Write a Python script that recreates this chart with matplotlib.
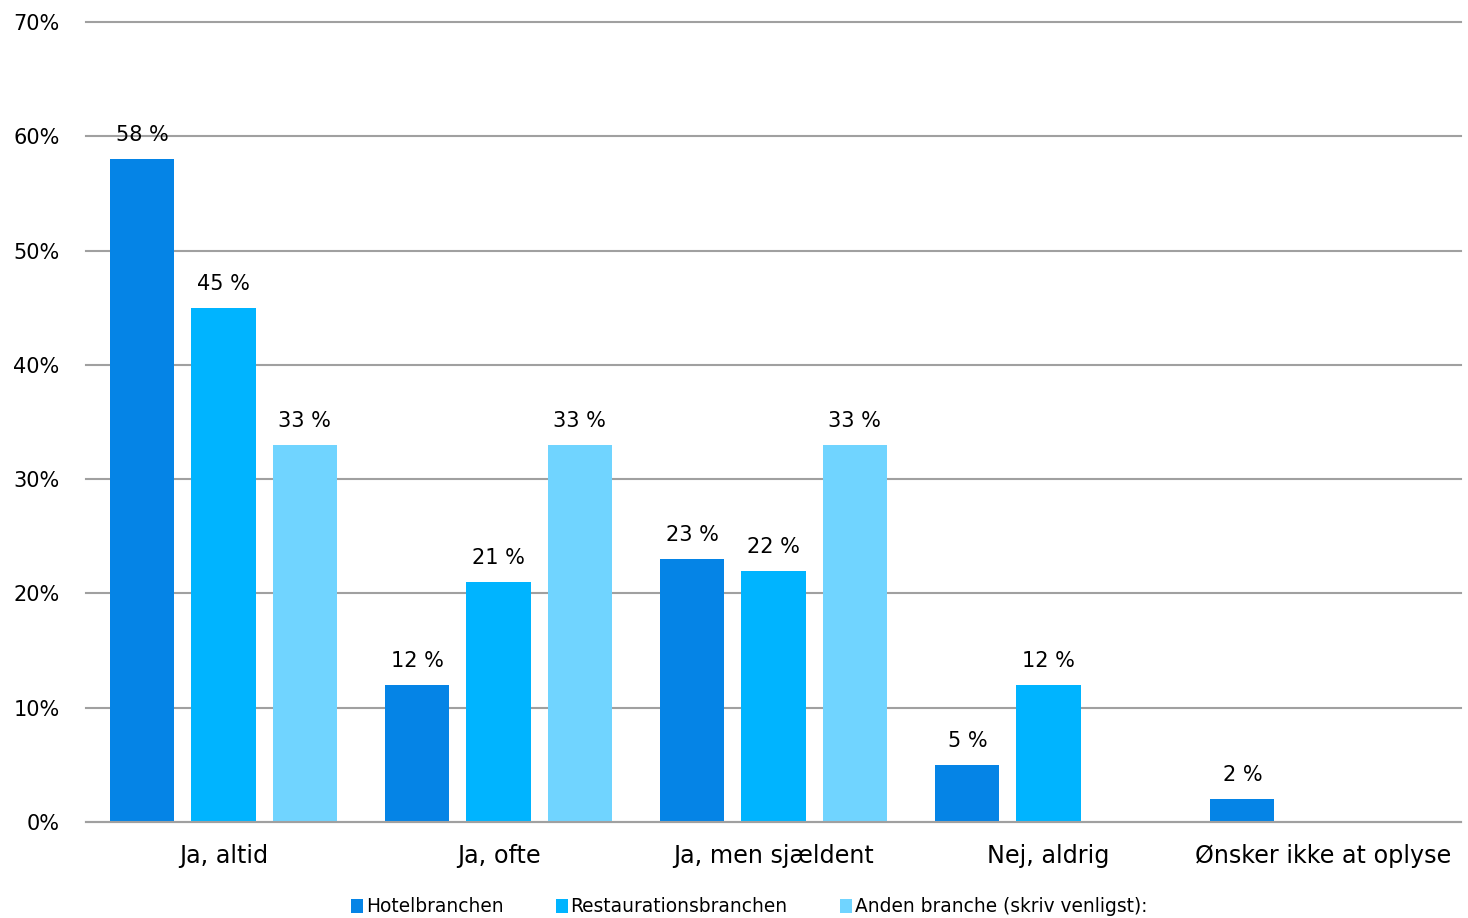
import matplotlib
matplotlib.use("Agg")
import matplotlib.pyplot as plt
import numpy as np
from matplotlib.patches import Patch

categories = ["Ja, altid", "Ja, ofte", "Ja, men sjældent", "Nej, aldrig", "Ønsker ikke at oplyse"]
series_names = ["Hotelbranchen", "Restaurationsbranchen", "Anden branche (skriv venligst):"]
hotel = [58, 12, 23, 5, 2]
restaurant = [45, 21, 22, 12, 0]
anden = [33, 33, 33, 0, 0]
yticks = [0, 10, 20, 30, 40, 50, 60, 70]
colors = ["#0584E6", "#00B4FF", "#70D4FF"]

plt.rcParams['font.family'] = ['DejaVu Sans']

fig = plt.figure(figsize=(14.68, 9.18), dpi=100)
ax = fig.add_axes([86/1468, 1-822/918, (1461-86)/1468, 800/918])

x = np.arange(len(categories))
width = 0.233
pitch = 0.295
for i, (vals, c) in enumerate(zip([hotel, restaurant, anden], colors)):
    pos = x + (i - 1) * pitch
    ax.bar(pos, vals, width=width, color=c, zorder=3)
    for p, v in zip(pos, vals):
        if v > 0:
            ax.annotate(f"{v} %", (p, v), xytext=(0, 10), textcoords="offset points",
                        ha="center", va="bottom", fontsize=15, color="black", zorder=4)

ax.set_xlim(-0.5, len(categories) - 0.5)
ax.set_ylim(0, 70)
ax.set_yticks(yticks)
ax.set_yticklabels([f"{t}%" for t in yticks], fontsize=15)
ax.set_xticks(x)
ax.set_xticklabels(categories, fontsize=17.2)
ax.tick_params(axis='y', length=0, pad=19)
ax.tick_params(axis='x', length=0, pad=16)
ax.yaxis.grid(True, color="#A0A0A0", linewidth=1.5, zorder=0)
for gl in ax.get_ygridlines():
    gl.set_clip_on(False)
for s in ["top", "right", "left"]:
    ax.spines[s].set_visible(False)
ax.spines["bottom"].set_color("#A0A0A0")
ax.spines["bottom"].set_linewidth(1.5)
ax.spines["bottom"].set_zorder(5)

handles = [Patch(facecolor=c, edgecolor="none") for c in colors]
fig.legend(handles, series_names, loc="center", bbox_to_anchor=(749/1468, 11/918),
           ncol=3, frameon=False, fontsize=13.4, handlelength=0.65, handleheight=0.7,
           handletextpad=0.15, columnspacing=2.8)

fig.savefig("out.png", dpi=100)
